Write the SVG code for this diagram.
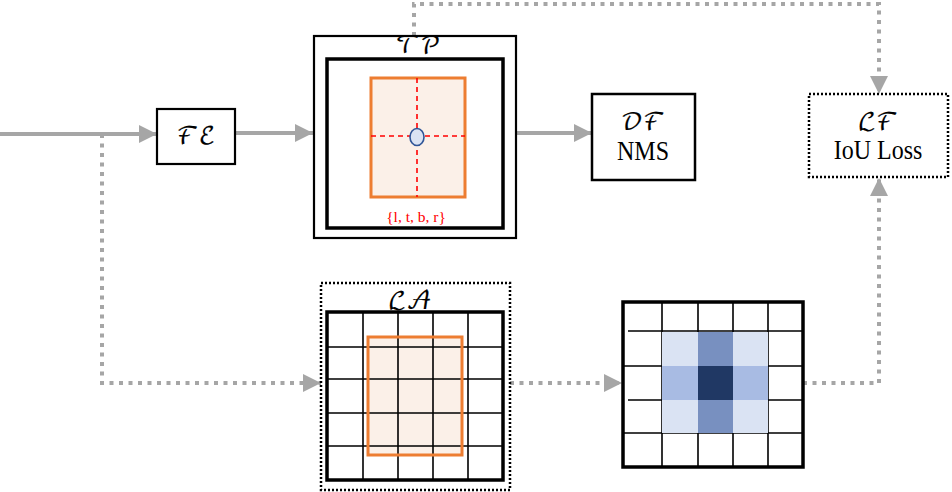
<svg xmlns="http://www.w3.org/2000/svg" width="952" height="492" viewBox="0 0 952 492">
<style>
.conn{fill:none;stroke:#A6A6A6;stroke-width:4}
.dot{stroke-dasharray:4 5.5}
.box{fill:#fff;stroke:#000}
.dbox{fill:#fff;stroke:#000;stroke-width:2.5;stroke-dasharray:2 2}
.cal{font-family:"DejaVu Math TeX Gyre","Noto Sans Math","DejaVu Serif",serif;font-size:24px;text-anchor:middle;fill:#000;stroke:#000;stroke-width:0.15}
.rm{font-family:"Liberation Serif","Times New Roman",serif;font-size:24px;text-anchor:middle;fill:#000}
.grid{stroke:#000;stroke-width:1.6}
.org{fill:#FBF0E8;stroke:#ED7D31;stroke-width:3}
</style>
<defs>
<marker id="ah" markerUnits="userSpaceOnUse" markerWidth="18" markerHeight="18" refX="18" refY="9" orient="auto" viewBox="0 0 18 18">
<path d="M0,0 L18,9 L0,18 z" fill="#A6A6A6"/>
</marker>
</defs>

<g id="connectors">
<path class="conn" d="M0,134 H157" marker-end="url(#ah)"/>
<path class="conn" d="M235,133 H313" marker-end="url(#ah)"/>
<path class="conn" d="M516,133 H592" marker-end="url(#ah)"/>
<path class="conn dot" d="M414,36 V4 H879 V94" marker-end="url(#ah)"/>
<path class="conn dot" d="M102,134 V383 H321" marker-end="url(#ah)"/>
<path class="conn dot" d="M510,383 H622" marker-end="url(#ah)"/>
<path class="conn dot" d="M803,383 H879 V178" marker-end="url(#ah)"/>
</g>

<g id="FE">
<rect class="box" x="157" y="109" width="78" height="55" stroke-width="2.2"/>
<text class="cal" x="196" y="144">ℱℰ</text>
</g>

<g id="TP">
<rect class="box" x="314" y="36" width="202" height="202" stroke-width="2.2"/>
<rect class="box" x="327" y="59" width="176" height="169" stroke-width="3.5"/>
<text class="cal" x="418" y="53">𝒯𝒫</text>
<rect class="org" x="371" y="78" width="94" height="119"/>
<path d="M417,78 V197 M371,136 H465" stroke="#FF0000" stroke-width="1.6" stroke-dasharray="5 4" fill="none"/>
<ellipse cx="417" cy="137" rx="7" ry="8.5" fill="#DAE3F3" stroke="#2F5597" stroke-width="1.6"/>
<text x="416" y="222" font-family="Liberation Serif, serif" font-size="15.5" fill="#FF0000" text-anchor="middle">{l, t, b, r}</text>
</g>

<g id="DF">
<rect class="box" x="592" y="94" width="103" height="86" stroke-width="2.5"/>
<text class="cal" x="643" y="130">𝒟ℱ</text>
<text class="rm" transform="translate(643,160) scale(1,1.15)">NMS</text>
</g>

<g id="LF">
<rect class="dbox" x="809" y="94" width="139" height="83"/>
<text class="cal" x="878" y="130">ℒℱ</text>
<text class="rm" transform="translate(878,159) scale(1,1.15)">IoU Loss</text>
</g>

<g id="LA">
<rect class="dbox" x="321" y="283" width="189" height="207"/>
<text class="cal" x="410" y="309">ℒ𝒜</text>
<rect x="327" y="312" width="176" height="168" fill="#fff"/>
<rect x="368" y="337" width="94" height="118" fill="#FBF0E8"/>
<path class="grid" d="M363,312 V480 M398,312 V480 M433,312 V480 M468,312 V480 M327,347 H503 M327,379 H503 M327,413 H503 M327,446 H503"/>
<rect x="368" y="337" width="94" height="118" fill="none" stroke="#ED7D31" stroke-width="3"/>
<rect x="327" y="312" width="176" height="168" fill="none" stroke="#000" stroke-width="3.5"/>
</g>

<g id="HM">
<rect x="623" y="302" width="180" height="165" fill="#fff"/>
<path class="grid" d="M662,302 V467 M698,302 V467 M733,302 V467 M768,302 V467 M628,331 H803 M623,366 H803 M628,400 H803 M623,433 H803"/>
<rect x="662" y="332" width="36" height="34" fill="#DAE3F3"/>
<rect x="733" y="332" width="35" height="34" fill="#DAE3F3"/>
<rect x="662" y="400" width="36" height="33" fill="#DAE3F3"/>
<rect x="733" y="400" width="35" height="33" fill="#DAE3F3"/>
<rect x="662" y="366" width="36" height="34" fill="#A8BBE3"/>
<rect x="733" y="366" width="35" height="34" fill="#A8BBE3"/>
<rect x="698" y="332" width="35" height="34" fill="#7890C0"/>
<rect x="698" y="400" width="35" height="33" fill="#7890C0"/>
<rect x="698" y="366" width="35" height="34" fill="#203864"/>
<rect x="623" y="302" width="180" height="165" fill="none" stroke="#000" stroke-width="3.5"/>
</g>
</svg>
